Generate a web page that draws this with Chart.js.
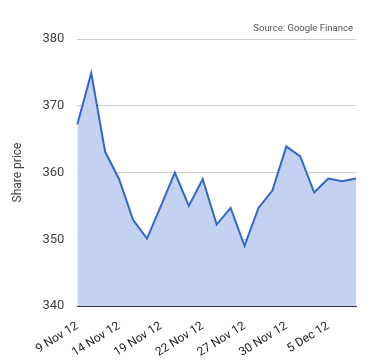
<!DOCTYPE html>
<html>
<head>
<meta charset="utf-8">
<script src="https://cdn.jsdelivr.net/npm/chart.js@4.4.0/dist/chart.umd.min.js"></script>
<style>
  html, body { margin: 0; padding: 0; background: #fff; }
  #wrap { width: 380px; height: 360px; }
</style>
</head>
<body>
<div id="wrap"><canvas id="chart"></canvas></div>
<script>
// --- DATA ---
const dates = [
    '9 Nov 12', '12 Nov 12', '13 Nov 12', '14 Nov 12', '15 Nov 12', '16 Nov 12',
    '19 Nov 12', '20 Nov 12', '21 Nov 12', '22 Nov 12', '23 Nov 12', '26 Nov 12',
    '27 Nov 12', '28 Nov 12', '29 Nov 12', '30 Nov 12', '3 Dec 12', '4 Dec 12',
    '5 Dec 12', '6 Dec 12', '7 Dec 12'
];
const sharePrice = [
    367.2, 374.9, 363.1, 359.0, 352.9, 350.1,
    355.0, 360.0, 355.0, 359.0, 352.2, 354.7,
    349.0, 354.7, 357.3, 363.9, 362.4, 357.0,
    359.1, 358.7, 359.1
];
const yTicks = [340, 350, 360, 370, 380];
const labelEvery = 3;

// small source credit above the plot, right aligned
const sourceNote = {
    id: 'sourceNote',
    afterDraw(chart) {
        const { ctx, chartArea } = chart;
        ctx.save();
        ctx.font = '9.5px Roboto';
        ctx.fillStyle = '#555';
        ctx.textAlign = 'right';
        ctx.textBaseline = 'alphabetic';
        ctx.fillText('Source: Google Finance', chartArea.right - 3, 31);
        ctx.restore();
    }
};

new Chart(document.getElementById('chart'), {
    type: 'line',
    data: {
        labels: dates,
        datasets: [{
            label: 'Share price',
            data: sharePrice,
            borderColor: '#3366cc',
            backgroundColor: '#c2d2f0',
            borderWidth: 2,
            fill: 'start',
            pointRadius: 0,
            tension: 0
        }]
    },
    options: {
        responsive: true,
        maintainAspectRatio: false,
        animation: false,
        layout: { padding: { top: 39, right: 24, left: 7, bottom: 0 } },
        plugins: {
            legend: { display: false },
            tooltip: { enabled: false }
        },
        scales: {
            x: {
                offset: false,
                afterFit: axis => { axis.height = 54; },
                grid: { display: false },
                border: { display: true, color: '#333', width: 1 },
                ticks: {
                    autoSkip: false,
                    minRotation: 32,
                    maxRotation: 32,
                    color: '#222',
                    font: { family: 'Roboto', size: 12 },
                    padding: 5,
                    callback: (v, i) => i % labelEvery === 0 ? dates[i] : ''
                }
            },
            y: {
                min: yTicks[0],
                max: yTicks[yTicks.length - 1],
                afterBuildTicks: axis => { axis.ticks = yTicks.map(v => ({ value: v })); },
                border: { display: false },
                grid: {
                    color: ctx => ctx.index === 0 ? '#333' : '#ccc',
                    drawTicks: false
                },
                ticks: {
                    color: '#444',
                    font: { family: 'Roboto', size: 13 },
                    padding: 13
                },
                title: {
                    display: true,
                    text: 'Share price',
                    color: '#444',
                    font: { family: 'Roboto', size: 12 },
                    padding: { top: 4, bottom: 4 }
                }
            }
        }
    },
    plugins: [sourceNote]
});
</script>
</body>
</html>
